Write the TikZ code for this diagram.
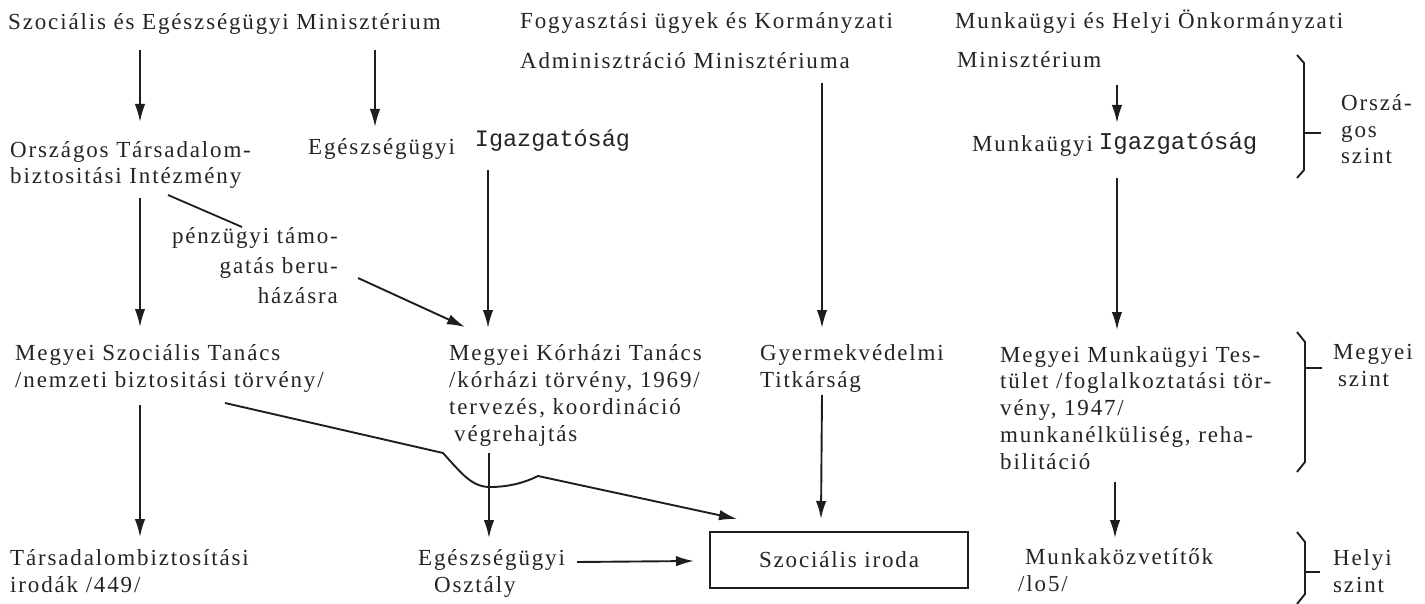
\documentclass[tikz,border=0pt]{standalone}
\usepackage{fontspec}
\usetikzlibrary{arrows.meta,calc}
\newfontfamily\twfont[LetterSpace=8]{Liberation Serif}
\newfontfamily\monofont{Liberation Mono}
\definecolor{ink}{RGB}{36,36,36}
\definecolor{stroke}{RGB}{30,30,30}
\newcommand{\tw}{\twfont\fontsize{23}{26.7}\selectfont}
\newcommand{\igz}[1]{{\monofont\fontsize{#1}{26}\selectfont Igazgatóság}}
% multi-line nodes are placed by the baseline of their last line
\tikzset{
  txt/.style={anchor=base west, inner sep=0pt, align=left, font=\tw, text=ink},
  arr/.style={draw=stroke, line width=1.9pt, -{Latex[length=18pt,width=10.5pt]}},
  ln/.style={draw=stroke, line width=1.8pt},
  brk/.style={draw=stroke, line width=1.9pt, line join=miter}
}
\begin{document}
\begin{tikzpicture}[x=1pt,y=-1pt]
\useasboundingbox (0,0) rectangle (1425,604);

% --- national level ---
\node[txt] (sem) at (8,30) {Szociális és Egészségügyi Minisztérium};
\node[txt] (fkm) at (520,69) {Fogyasztási ügyek és Kormányzati\\[14pt]Adminisztráció Minisztériuma};
\node[txt] (mhm) at (955,68) {Munkaügyi és Helyi Önkormányzati\\[13pt]\kern2pt Minisztérium};
\node[txt] (oti) at (10,184) {Országos Társadalom-\\biztositási Intézmény};
\node[txt] (egi) at (308,155) {Egészségügyi\hspace{20pt}\raisebox{8pt}{\igz{23.5}}};
\node[txt] (mig) at (972,152) {Munkaügyi\hspace{6pt}\raisebox{2pt}{\igz{24}}};

% --- funding label ---
\node[txt, anchor=base east, align=right, font=\twfont\fontsize{23}{29.5}\selectfont] (pen) at (338,303)
  {pénzügyi támo-\\gatás beru-\\házásra};

% --- county level ---
\node[txt] (mszt) at (15,387) {Megyei Szociális Tanács\\/nemzeti biztositási törvény/};
\node[txt] (mkt) at (449,441) {Megyei Kórházi Tanács\\/kórházi törvény, 1969/\\tervezés, koordináció\\\kern5pt végrehajtás};
\node[txt] (gyv) at (760,387) {Gyermekvédelmi\\Titkárság};
\node[txt] (mmt) at (1000,469) {Megyei Munkaügyi Tes-\\tület /foglalkoztatási tör-\\vény, 1947/\\munkanélküliség, reha-\\bilitáció};

% --- local level ---
\node[txt] (tbi) at (10,592) {Társadalombiztosítási\\irodák /449/};
\node[txt] (eo) at (418,592) {Egészségügyi\\\kern16pt Osztály};
\node[draw=stroke, line width=2pt, inner sep=0pt, minimum width=258pt, minimum height=56pt,
      font=\tw, text=ink] (box) at (839,560) {Szociális iroda};
\node[txt] (mk) at (1025,591) {Munkaközvetítők\\\kern-7pt/lo5/};

% --- level labels ---
\node[txt] (lv1) at (1341,164) {Orszá-\\gos\\szint};
\node[txt] (lv2) at (1333,386) {Megyei\\\kern5pt szint};
\node[txt] (lv3) at (1333,592) {Helyi\\szint};

% --- level brackets ---
\draw[brk] (1297,55) -- (1304,63) -- (1304,170) -- (1297,178);
\draw[brk] (1304,133) -- (1321,133);
\draw[brk] (1297,332) -- (1305,342) -- (1305,462) -- (1297,472);
\draw[brk] (1305,368) -- (1322,368);
\draw[brk] (1297,532) -- (1305,542) -- (1305,594) -- (1297,604);
\draw[brk] (1305,572) -- (1320,572);

% --- vertical connectors ---
\draw[arr] ($(sem.base west)+(132,20)$) -- ($(oti.base west)+(130,-62)$);
\draw[arr] ($(sem.base west)+(367,20)$) -- ($(egi.base west)+(67,-28)$);
\draw[arr] ($(mhm.base west)+(162,17)$) -- ($(mig.base west)+(145,-29)$);
\draw[arr] ($(oti.base west)+(130,14)$) -- ($(mszt.base west)+(125,-60)$);
\draw[arr] ($(egi.base west)+(180,15)$) -- ($(mkt.base west)+(39,-113)$);
\draw[arr] ($(fkm.base west)+(302,14)$) -- ($(gyv.base west)+(62,-59)$);
\draw[arr] ($(mig.base west)+(145,26)$) -- ($(mmt.base west)+(117,-139)$);
\draw[arr] ($(mszt.base west)+(125,18)$) -- ($(tbi.base west)+(130,-55)$);
\draw[arr] ($(mkt.base west)+(40,12)$) -- ($(eo.base west)+(71,-54)$);
\draw[arr] ($(gyv.base west)+(62,8)$) -- ($(box.north west)+(112,-12)$);
\draw[arr] ($(mmt.base west)+(115,13)$) -- ($(mk.base west)+(90,-53)$);

% --- other connectors ---
\draw[arr] ($(eo.base west)+(159,-30)$) -- ($(box.north west)+(-15,30)$);
\draw[ln] ($(oti.base west)+(158,11)$) -- ($(pen.base east)+(-96,-76)$);
\draw[arr] ($(pen.base east)+(20,-25)$) -- ($(mkt.base west)+(16,-114)$);
\draw[arr] ($(mszt.base west)+(210,16)$) -- (443,453)
  .. controls (462,474) and (472,487) .. (490,487)
  .. controls (510,487) and (526,482) .. (538,476)
  -- ($(box.north west)+(28,-12)$);
\end{tikzpicture}
\end{document}
